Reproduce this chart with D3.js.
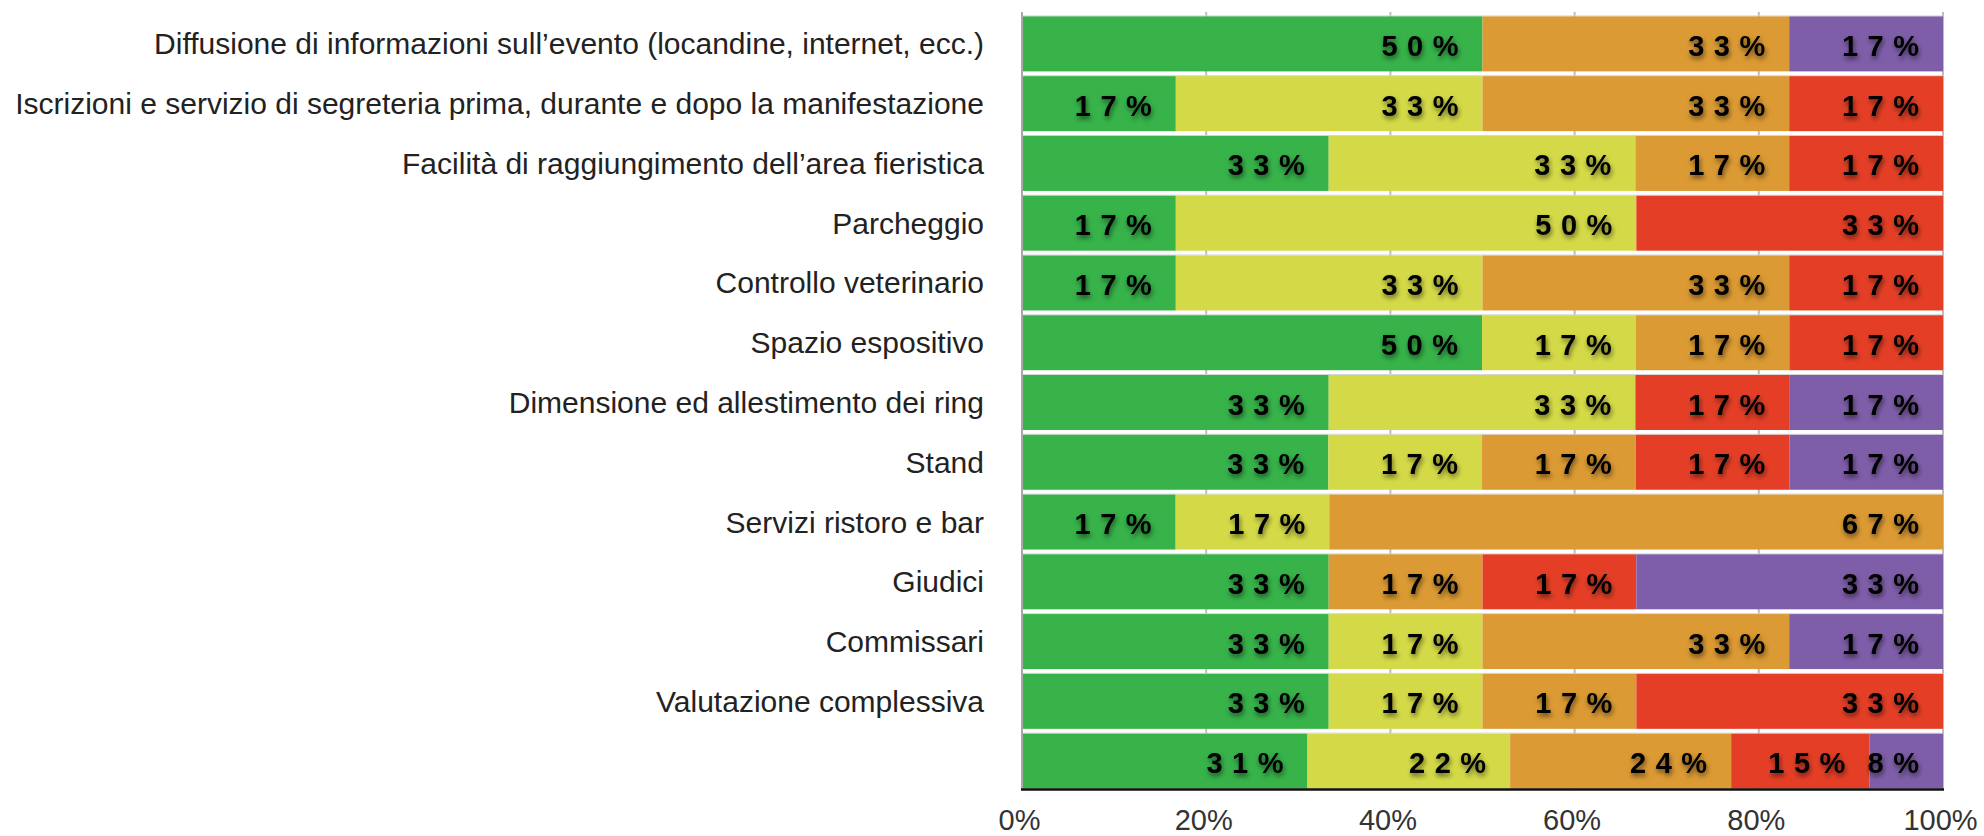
<!DOCTYPE html>
<html>
<head>
<meta charset="utf-8">
<script src="https://cdn.jsdelivr.net/npm/d3@7"></script>
<style>
  html, body { margin: 0; padding: 0; background: #fff; }
  svg { display: block; }
</style>
</head>
<body>
<svg id="chart" width="1984" height="836"></svg>
<script>
// ---- data (percent of respondents; bars) ----
const categories = [
  "Diffusione di informazioni sull\u2019evento (locandine, internet, ecc.)",
  "Iscrizioni e servizio di segreteria prima, durante e dopo la manifestazione",
  "Facilit\u00e0 di raggiungimento dell\u2019area fieristica",
  "Parcheggio",
  "Controllo veterinario",
  "Spazio espositivo",
  "Dimensione ed allestimento dei ring",
  "Stand",
  "Servizi ristoro e bar",
  "Giudici",
  "Commissari",
  "Valutazione complessiva",
  ""
];
const seriesKeys   = ["verde", "giallo", "arancio", "rosso", "viola"];
const seriesColors = ["#37b34a", "#d4da47", "#db9a33", "#e43f26", "#7e5ea9"];
const verde   = [50,   16.7, 33.3, 16.7, 16.7, 50,   33.3, 33.3, 16.7, 33.3, 33.3, 33.3, 31];
const giallo  = [ 0,   33.3, 33.3, 50,   33.3, 16.7, 33.3, 16.7, 16.7,  0,   16.7, 16.7, 22];
const arancio = [33.3, 33.3, 16.7,  0,   33.3, 16.7,  0,   16.7, 66.7, 16.7, 33.3, 16.7, 24];
const rosso   = [ 0,   16.7, 16.7, 33.3, 16.7, 16.7, 16.7, 16.7,  0,   16.7,  0,   33.3, 15];
const viola   = [16.7,  0,    0,    0,    0,    0,   16.7, 16.7,  0,   33.3, 16.7,  0,    8];
const tickValues = [0, 0.2, 0.4, 0.6, 0.8, 1];

// ---- build table ----
const seriesData = { verde, giallo, arancio, rosso, viola };
const rows = categories.map((c, i) => {
  const r = { idx: i, cat: c };
  seriesKeys.forEach(k => r[k] = seriesData[k][i]);
  return r;
});

const svg = d3.select("#chart");
const font = "'Liberation Sans', Arial, Helvetica, sans-serif";

const x = d3.scaleLinear().domain([0, 1]).range([1022, 1943]);
const y = d3.scaleBand().domain(rows.map(d => d.idx)).range([14, 791])
  .paddingInner(0.08).paddingOuter(0.04);

const stack = d3.stack().keys(seriesKeys).offset(d3.stackOffsetExpand);
const stacked = stack(rows);

// drop shadow for labels
const defs = svg.append("defs");
const f = defs.append("filter").attr("id", "shadow")
  .attr("x", "-20%").attr("y", "-40%").attr("width", "140%").attr("height", "180%");
f.append("feDropShadow").attr("dx", 1).attr("dy", 3).attr("stdDeviation", 2.6)
  .attr("flood-color", "#000").attr("flood-opacity", 0.55);

// gridlines (behind bars)
const plotTop = 12, plotBottom = 790;
svg.append("g").selectAll("line").data(tickValues.slice(1)).join("line")
  .attr("x1", d => x(d)).attr("x2", d => x(d))
  .attr("y1", plotTop).attr("y2", plotBottom)
  .attr("stroke", "#bdbdbd").attr("stroke-width", 2);

// thin light line at top of each band
svg.append("g").selectAll("line").data(rows).join("line")
  .attr("x1", x(0)).attr("x2", x(1))
  .attr("y1", d => y(d.idx) - 0.5).attr("y2", d => y(d.idx) - 0.5)
  .attr("stroke", "#d6d6d6").attr("stroke-width", 1);

// bars
const layer = svg.append("g").selectAll("g").data(stacked).join("g")
  .attr("fill", (d, i) => seriesColors[i]);
layer.selectAll("rect").data(d => d.map(s => ({ s, key: d.key }))).join("rect")
  .attr("x", d => x(d.s[0]))
  .attr("width", d => Math.max(0, x(d.s[1]) - x(d.s[0])))
  .attr("y", d => y(d.s.data.idx))
  .attr("height", y.bandwidth());

// left axis line
svg.append("line").attr("x1", x(0)).attr("x2", x(0)).attr("y1", plotTop).attr("y2", plotBottom)
  .attr("stroke", "#a8a8a8").attr("stroke-width", 2);

// bottom axis line
svg.append("line").attr("x1", x(0) - 1).attr("x2", x(1) + 1).attr("y1", 789.5).attr("y2", 789.5)
  .attr("stroke", "#111").attr("stroke-width", 2.5);

// value labels
const ls = 9.5;
const labels = [];
stacked.forEach(layerData => {
  layerData.forEach(s => {
    const v = s.data[layerData.key];
    if (v > 0) labels.push({ v, end: s[1], idx: s.data.idx });
  });
});
svg.append("g").selectAll("text").data(labels).join("text")
  .attr("x", d => x(d.end) - 25 + ls + 1)
  .attr("y", d => y(d.idx) + y.bandwidth() / 2 + 12)
  .attr("text-anchor", "end")
  .attr("font-family", font).attr("font-weight", "bold").attr("font-size", 29)
  .attr("letter-spacing", ls)
  .attr("fill", "#000")
  .attr("filter", "url(#shadow)")
  .text(d => d3.format(".0f")(d.v) + "%");

// category axis
const yAxis = d3.axisLeft(y).tickSize(0).tickPadding(38).tickFormat(i => categories[i]);
const gy = svg.append("g").attr("transform", `translate(${x(0)},0)`).call(yAxis);
gy.select(".domain").remove();
gy.selectAll("text").attr("font-family", font).attr("font-size", 30).attr("fill", "#222")
  .attr("dy", null).attr("dominant-baseline", "auto")
  .attr("y", 10.5);

// x axis tick labels
const xAxis = d3.axisBottom(x).tickValues(tickValues).tickSize(0).tickPadding(0)
  .tickFormat(d3.format(".0%"));
const gx = svg.append("g").attr("transform", `translate(-3,830)`).call(xAxis);
gx.select(".domain").remove();
gx.selectAll("text").attr("font-family", font).attr("font-size", 29).attr("fill", "#333")
  .attr("dy", null).attr("y", 0);
</script>
</body>
</html>
